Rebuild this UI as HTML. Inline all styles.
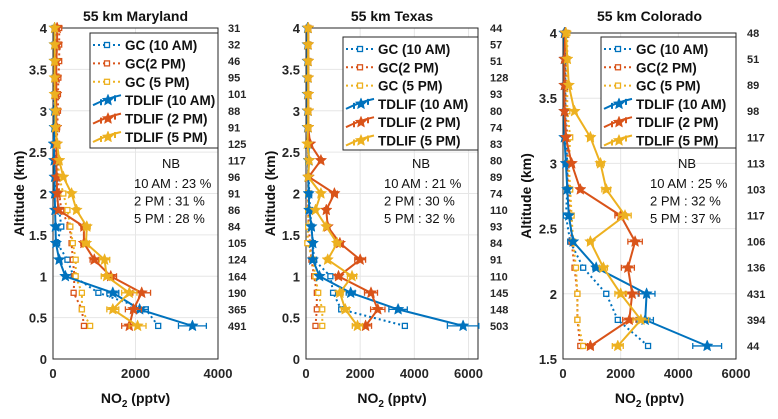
<!DOCTYPE html>
<html><head><meta charset="utf-8"><style>
body{margin:0;background:#fff;}
svg text{font-family:"Liberation Sans",sans-serif;}
</style></head><body>
<svg id="s" width="778" height="414" xmlns="http://www.w3.org/2000/svg"></svg>
<script>
// ---- data ----
const altMD = [0.4,0.6,0.8,1.0,1.2,1.4,1.6,1.8,2.0,2.2,2.4,2.6,2.8,3.0,3.2,3.4,3.6,3.8,4.0];
const altCO = [1.6,1.8,2.0,2.2,2.4,2.6,2.8,3.0,3.2,3.4,3.6,3.8,4.0];
const mdCounts = [491,365,190,164,124,105,84,86,91,96,117,125,91,88,101,95,46,32,31];
const txCounts = [503,148,145,110,91,84,93,110,74,89,80,83,74,80,93,128,51,57,44];
const coCounts = [44,394,431,136,106,117,103,113,117,98,89,51,48];
const mdGC10 = [2550,2250,1100,500,350,100,200,150,80,60,50,40,40,40,40,40,40,40,40];
const mdGC2 = [750,700,500,520,480,450,400,200,150,120,100,100,100,120,120,130,150,150,150];
const mdGC5 = [900,700,700,550,550,480,420,350,250,150,120,80,80,80,60,60,60,60,60];
const mdTD10 = [3380,2100,1450,300,150,70,60,50,40,40,30,20,40,40,50,50,40,40,40];
const mdTD2 = [1850,1950,2150,1400,1000,750,750,130,100,90,80,80,80,80,80,80,80,100,100];
const mdTD5 = [2050,1450,1850,1300,1250,800,820,570,450,250,150,100,60,60,40,40,40,40,40];
const txGC10 = [3650,1300,1000,900,300,250,200,150,120,100,80,80,80,80,80,80,80,80,80];
const txGC2 = [350,400,400,300,200,150,100,80,80,80,80,80,80,80,80,80,80,80,80];
const txGC5 = [600,600,450,350,250,50,80,80,80,80,80,80,80,80,80,80,80,80,80];
const txTD10 = [5800,3400,1650,500,250,250,200,120,100,80,100,100,60,60,60,60,60,60,60];
const txTD2 = [2200,2650,2400,1200,2000,1250,800,750,1050,100,550,150,80,80,80,80,80,80,80];
const txTD5 = [1900,1450,1250,1700,800,1150,750,350,550,80,120,50,80,80,80,80,80,80,80];
const coGC10 = [2950,1900,1500,700,250,100,150,150,100,80,80,80,80];
const coGC2 = [600,500,500,400,300,250,200,150,150,100,100,100,100];
const coGC5 = [700,500,500,450,350,300,250,200,250,150,150,150,150];
const coTD10 = [5000,2850,2900,1150,350,200,150,100,50,50,50,50,50];
const coTD2 = [950,2300,2400,2250,2500,2000,600,300,100,50,50,50,80];
const coTD5 = [1900,2700,2000,1400,950,2150,1500,1300,950,400,200,150,100];
const xTicksMD = [0,2000,4000];
const xTicksTX = [0,2000,4000,6000];
const yTicksA = [0,0.5,1,1.5,2,2.5,3,3.5,4];
const yTicksC = [1.5,2,2.5,3,3.5,4];
const legendLabels = ["GC (10 AM)","GC(2 PM)","GC (5 PM)","TDLIF (10 AM)","TDLIF (2 PM)","TDLIF (5 PM)"];
const nbMD = ["10 AM : 23 %","2 PM :  31 %","5 PM : 28 %"];
const nbTX = ["10 AM : 21 %","2 PM : 30 %","5 PM : 32 %"];
const nbCO = ["10 AM : 25 %","2 PM : 32 %","5 PM : 37 %"];

const C = ["#0072BD","#D95319","#EDB120"];
const NS = "http://www.w3.org/2000/svg";
const svg = document.getElementById('s');
function mk(tag, attrs, parent, txt){
  const e = document.createElementNS(NS, tag);
  for (const k in attrs) e.setAttribute(k, attrs[k]);
  if (txt !== undefined) e.textContent = txt;
  (parent||svg).appendChild(e);
  return e;
}
function star(g,x,y,r,col){
  let p=[];
  for(let i=0;i<10;i++){const a=-Math.PI/2+i*Math.PI/5;const rr=i%2?r*0.45:r;p.push((x+rr*Math.cos(a)).toFixed(1)+','+(y+rr*Math.sin(a)).toFixed(1));}
  const e=mk('polygon',{points:p.join(' '),fill:col,stroke:col,'stroke-width':0.5},g);
  
  
}

function panel(cfg){
  const g = mk('g',{});
  
  
  const X = v => cfg.x0 + (v - 0) / cfg.xmax * (cfg.x1 - cfg.x0);
  const Y = v => cfg.y1 - (v - cfg.ymin) / (cfg.ymax - cfg.ymin) * (cfg.y1 - cfg.y0);
  // grid
  cfg.xt.forEach(t=>{ if(t>0 && t<cfg.xmax){ const l=mk('line',{x1:X(t),x2:X(t),y1:cfg.y0,y2:cfg.y1,stroke:'#e6e6e6','stroke-width':1},g);  }});
  cfg.yt.forEach(t=>{ const l=mk('line',{x1:cfg.x0,x2:cfg.x1,y1:Y(t),y2:Y(t),stroke:'#e6e6e6','stroke-width':1},g);  });
  // box
  const b=mk('rect',{x:cfg.x0,y:cfg.y0,width:cfg.x1-cfg.x0,height:cfg.y1-cfg.y0,fill:'none',stroke:'#262626','stroke-width':1},g);
   
  // ticks labels
  cfg.xt.forEach(t=>{ const e=mk('text',{x:X(t),y:cfg.y1+19,'font-size':13,'font-weight':'bold','text-anchor':'middle',fill:'#262626'},g,String(t));  });
  cfg.yt.forEach(t=>{ const e=mk('text',{x:cfg.x0-6,y:Y(t)+5,'font-size':13,'font-weight':'bold','text-anchor':'end',fill:'#262626'},g,String(t));  });
  // title
  const ti=mk('text',{x:(cfg.x0+cfg.x1)/2,y:21,'font-size':14,'font-weight':'bold','text-anchor':'middle',fill:'#111'},g,cfg.title);
   
  // axis titles
  const yl=mk('text',{x:0,y:0,'font-size':14,'font-weight':'bold','text-anchor':'middle',fill:'#111',transform:`translate(${cfg.ylx},${(cfg.y0+cfg.y1)/2}) rotate(-90)`},g,'Altitude (km)');
   
  const xl=mk('text',{x:(cfg.x0+cfg.x1)/2,y:403,'font-size':14,'font-weight':'bold','text-anchor':'middle',fill:'#111'},g);
   
  mk('tspan',{},xl,'NO');
  mk('tspan',{dy:4,'font-size':10},xl,'2');
  mk('tspan',{dy:-4},xl,' (pptv)');
  // series
  const alt = cfg.alt;
  cfg.gc.forEach((arr,i)=>{
    const pts = arr.map((v,k)=>X(v).toFixed(1)+','+Y(alt[k]).toFixed(1)).join(' ');
    const pl=mk('polyline',{points:pts,fill:'none',stroke:C[i],'stroke-width':2,'stroke-dasharray':'2,3'},g);
     
    arr.forEach((v,k)=>{ const r=mk('rect',{x:X(v)-2.5,y:Y(alt[k])-2.5,width:5,height:5,fill:'#fff',stroke:C[i],'stroke-width':1.3},g);  });
  });
  cfg.td.forEach((arr,i)=>{
    const pts = arr.map((v,k)=>X(v).toFixed(1)+','+Y(alt[k]).toFixed(1)).join(' ');
    const pl=mk('polyline',{points:pts,fill:'none',stroke:C[i],'stroke-width':2},g);
     
    arr.forEach((v,k)=>{
      const y=Y(alt[k]), e=v*0.1;
      const eb=mk('path',{d:`M${X(v-e)},${y}H${X(v+e)}M${X(v-e)},${y-3}v6M${X(v+e)},${y-3}v6`,stroke:C[i],'stroke-width':1.3,fill:'none'},g);
       
      star(g,X(v),y,6,C[i]);
    });
  });
  // counts
  cfg.counts.forEach((n,k)=>{ const e=mk('text',{x:cfg.cx,y:Y(alt[k])+4,'font-size':11,'font-weight':'bold',fill:'#262626'},g,String(n));  });
  // legend
  const L=cfg.leg;
  const lb=mk('rect',{x:L.x,y:L.y,width:cfg.x1-L.x,height:L.h,fill:'#fff',stroke:'#262626','stroke-width':1},g);
   
  legendLabels.forEach((lab,i)=>{
    const ly=L.y+12+i*L.dy, c=C[i%3], lx=L.x+3;
    const en=mk('g',{},g);  
    if(i<3){
      mk('line',{x1:lx,x2:lx+28,y1:ly,y2:ly,stroke:c,'stroke-width':2,'stroke-dasharray':'2,3'},en);
      mk('rect',{x:lx+11.5,y:ly-2.5,width:5,height:5,fill:'#fff',stroke:c,'stroke-width':1.3},en);
    } else {
      mk('path',{d:`M${lx},${ly+5}Q${lx+14},${ly-2} ${lx+28},${ly-5}M${lx+8},${ly-1}v6M${lx+22},${ly-5}v6`,stroke:c,'stroke-width':2,fill:'none'},en);
      star(en,lx+15,ly,6,c);
    }
    mk('text',{x:lx+32,y:ly+5,'font-size':13.5,'font-weight':'bold',fill:'#111'},en,lab);
  });
  // NB
  const nb=mk('g',{},g);  
  mk('text',{x:cfg.nbx+37,y:168,'font-size':13,fill:'#111','text-anchor':'middle'},nb,'NB');
  cfg.nb.forEach((t,k)=>mk('text',{x:cfg.nbx,y:188+k*17.5,'font-size':13,fill:'#111'},nb,t));
}

panel({name:'panel-maryland',title:'55 km Maryland',x0:53,x1:218,y0:28,y1:359,xmax:4000,ymin:0,ymax:4,xt:xTicksMD,yt:yTicksA,ylx:24,alt:altMD,
  gc:[mdGC10,mdGC2,mdGC5],td:[mdTD10,mdTD2,mdTD5],counts:mdCounts,cx:228,leg:{x:90,y:33,h:115,dy:18.4},nb:nbMD,nbx:134});
panel({name:'panel-texas',title:'55 km Texas',x0:306,x1:478,y0:28,y1:359,xmax:6350,ymin:0,ymax:4,xt:xTicksTX,yt:yTicksA,ylx:275,alt:altMD,
  gc:[txGC10,txGC2,txGC5],td:[txTD10,txTD2,txTD5],counts:txCounts,cx:490,leg:{x:343,y:37,h:113,dy:18.3},nb:nbTX,nbx:384});
panel({name:'panel-colorado',title:'55 km Colorado',x0:563,x1:736,y0:33,y1:359,xmax:6000,ymin:1.5,ymax:4,xt:xTicksTX,yt:yTicksC,ylx:531,alt:altCO,
  gc:[coGC10,coGC2,coGC5],td:[coTD10,coTD2,coTD5],counts:coCounts,cx:747,leg:{x:601,y:37,h:111,dy:18.3},nb:nbCO,nbx:650});
</script>
</body></html>
